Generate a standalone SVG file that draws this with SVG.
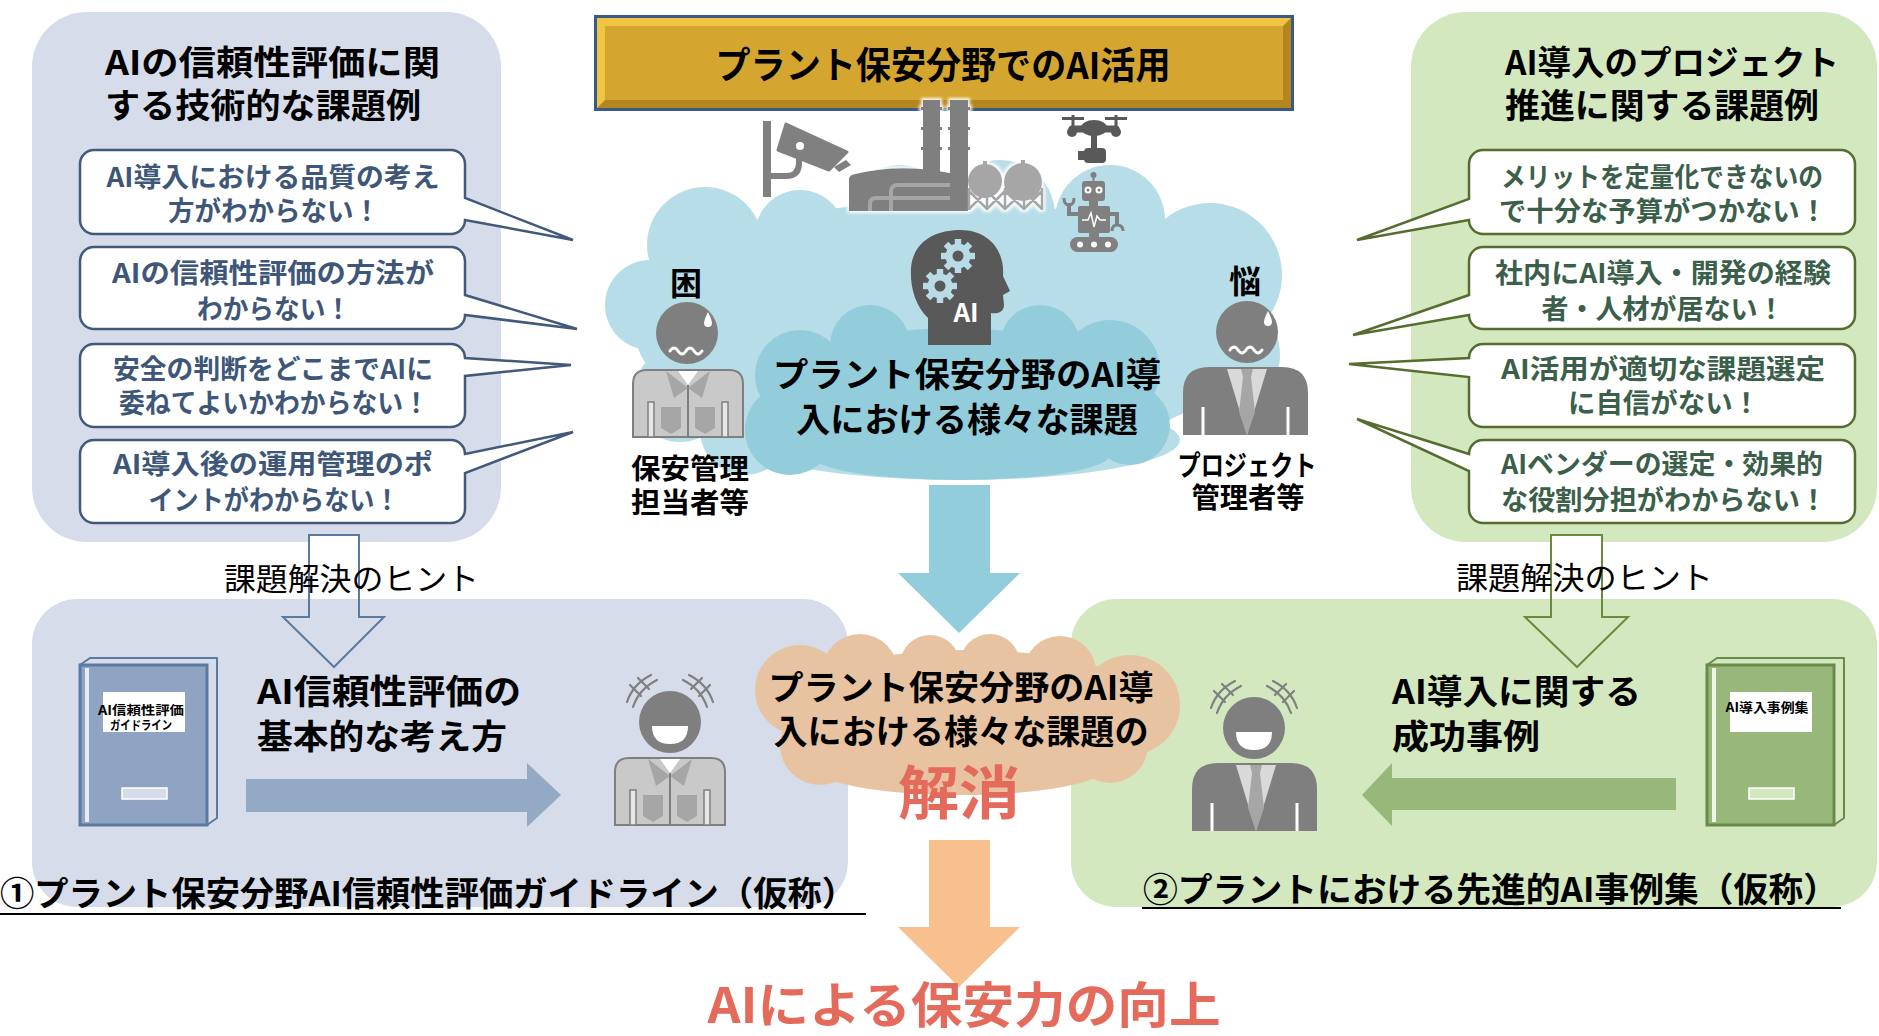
<svg xmlns="http://www.w3.org/2000/svg" width="1879" height="1036" viewBox="0 0 1879 1036">
<style>
  text { font-family: "Noto Sans CJK JP", "Noto Sans", sans-serif; font-weight: 700; }
  .blk { fill: #000; }
  .qb { fill: #3e5778; font-size: 27px; text-anchor: middle; }
  .qg { fill: #3b5f4b; font-size: 27px; text-anchor: middle; }
  .ttl { font-size: 34px; fill: #000; }
  .mid { text-anchor: middle; }
  .hint { font-weight: 400; font-size: 31px; fill: #000; }
  .bl { fill: #fff; stroke: #43597b; stroke-width: 2.5; }
  .bg { fill: #fff; stroke: #566d2f; stroke-width: 2.5; }
  .pb { fill: #d6dce9; }
  .pg { fill: #d3e8be; }
  .red { fill: #e46b5c; }
  .mark { fill: none; stroke: #808080; stroke-width: 2.2; stroke-linecap: round; }
</style>
<defs>
  <filter id="glow" x="-15%" y="-15%" width="130%" height="130%">
    <feMorphology in="SourceAlpha" operator="dilate" radius="2" result="d"/>
    <feGaussianBlur in="d" stdDeviation="1.5" result="b"/>
    <feFlood flood-color="#ffffff" flood-opacity="0.9"/>
    <feComposite in2="b" operator="in"/>
    <feMerge><feMergeNode/><feMergeNode in="SourceGraphic"/></feMerge>
  </filter>
  <g id="gear">
    <circle r="12.5"/>
    <rect x="-3.2" y="-17" width="6.4" height="6"/>
    <rect x="-3.2" y="-17" width="6.4" height="6" transform="rotate(45)"/>
    <rect x="-3.2" y="-17" width="6.4" height="6" transform="rotate(90)"/>
    <rect x="-3.2" y="-17" width="6.4" height="6" transform="rotate(135)"/>
    <rect x="-3.2" y="-17" width="6.4" height="6" transform="rotate(180)"/>
    <rect x="-3.2" y="-17" width="6.4" height="6" transform="rotate(225)"/>
    <rect x="-3.2" y="-17" width="6.4" height="6" transform="rotate(270)"/>
    <rect x="-3.2" y="-17" width="6.4" height="6" transform="rotate(315)"/>
    <circle r="5.5" fill="#595959"/>
  </g>
  <!-- work uniform torso, 110 x 67 -->
  <g id="uniform">
    <path d="M0,67 V14 Q0,0 14,0 H96 Q110,0 110,14 V67 Z" fill="#c9c9c9" stroke="#7f7f7f" stroke-width="2"/>
    <polygon points="33,1 55,18 41,28" fill="#a6a6a6"/>
    <polygon points="77,1 55,18 69,28" fill="#a6a6a6"/>
    <polygon points="45,1 65,1 55,15" fill="#fff"/>
    <path d="M55,15 V67" stroke="#7f7f7f" stroke-width="2"/>
    <path d="M28,37 H48 V58 L38,64 L28,58 Z" fill="#a6a6a6"/>
    <path d="M62,37 H82 V58 L72,64 L62,58 Z" fill="#a6a6a6"/>
    <rect x="15" y="32" width="6" height="35" fill="#e6e6e6" stroke="#7f7f7f" stroke-width="1.5"/>
    <rect x="89" y="32" width="6" height="35" fill="#e6e6e6" stroke="#7f7f7f" stroke-width="1.5"/>
  </g>
  <!-- business suit torso, 125 x 68 -->
  <g id="suit">
    <path d="M0,68 V26 Q0,0 26,0 H99 Q125,0 125,26 V68 Z" fill="#7f7f7f"/>
    <polygon points="44,2 84,2 64,68" fill="#d9d9d9"/>
    <polygon points="58,2 70,2 68,10 72,45 64,68 56,45 60,10" fill="#a6a6a6"/>
    <path d="M20,40 V68 M105,40 V68" stroke="#fff" stroke-width="3"/>
  </g>
  <!-- worried face, centred on 0,0 -->
  <g id="worried">
    <circle r="31" fill="#7f7f7f"/>
    <path d="M21,-21 Q25,-13 25,-10 A4,4 0 0 1 17,-10 Q17,-13 21,-21 Z" fill="#fff"/>
    <path d="M-17,18 q4,-6 8,0 t8,0 t8,0 t8,0" fill="none" stroke="#fff" stroke-width="3" stroke-linecap="round"/>
  </g>
  <!-- happy face with excitement marks -->
  <g id="happy">
    <circle r="31" fill="#7f7f7f"/>
    <path d="M-18,4 H18 Q18,22 0,22 Q-18,22 -18,4 Z" fill="#fff"/>
    <g class="mark">
      <path d="M-43,-20 Q-37,-38 -19,-47 M-37,-15 Q-31,-33 -13,-42 M-40,-37 L-29,-26 M-32,-44 L-21,-33"/>
      <path d="M43,-20 Q37,-38 19,-47 M37,-15 Q31,-33 13,-42 M40,-37 L29,-26 M32,-44 L21,-33"/>
    </g>
  </g>
</defs>

<!-- upper panels -->
<g id="panel-tech">
  <rect class="pb" x="32" y="12" width="469" height="530" rx="55"/>
  <text class="ttl" x="105" y="75" textLength="335" lengthAdjust="spacingAndGlyphs">AIの信頼性評価に関</text>
  <text class="ttl" x="105" y="118" textLength="316" lengthAdjust="spacingAndGlyphs">する技術的な課題例</text>
</g>
<g id="panel-project">
  <rect class="pg" x="1411" y="12" width="466" height="530" rx="55"/>
  <text class="ttl" x="1505" y="75" textLength="334" lengthAdjust="spacingAndGlyphs">AI導入のプロジェクト</text>
  <text class="ttl" x="1505" y="118" textLength="314" lengthAdjust="spacingAndGlyphs">推進に関する課題例</text>
</g>

<!-- hollow hint arrows: white body underneath the lower panels -->
<g id="hint-arrow-fill" fill="#fff">
  <path d="M309,535 V617 H283 L334,667 L384,617 H359 V535 Z"/>
  <path d="M1551,535 V617 H1525 L1577,667 L1628,617 H1602 V535 Z"/>
</g>

<!-- lower panels -->
<g id="guideline">
  <rect class="pb" x="32" y="599" width="816" height="308" rx="45"/>
</g>
<g id="casebook">
  <rect class="pg" x="1071" y="599" width="806" height="308" rx="45"/>
</g>

<g id="connectors">
  <path d="M309,535 V617 H283 L334,667 L384,617 H359 V535 Z" fill="none" stroke="#5b7aa0" stroke-width="2"/>
  <path d="M1551,535 V617 H1525 L1577,667 L1628,617 H1602 V535 Z" fill="none" stroke="#6b8a3f" stroke-width="2"/>
  <polygon points="246,779 527,779 527,763 561,795 527,827 527,812 246,812" fill="#94a9c3"/>
  <polygon points="1676,778 1392,778 1392,763 1362,795 1392,826 1392,810 1676,810" fill="#98b77a"/>
  <path d="M929,485 H990 V573 H1020 L959,633 L898,573 H929 Z" fill="#92cddc"/>
  <path d="M929,840 H990 V927 H1020 L959,987 L898,927 H929 Z" fill="#f9c08f"/>
</g>

<text class="hint" x="224" y="590" textLength="255" lengthAdjust="spacingAndGlyphs">課題解決のヒント</text>
<text class="hint" x="1456" y="589" textLength="257" lengthAdjust="spacingAndGlyphs">課題解決のヒント</text>

<!-- left callouts -->
<g id="tech-issues">
  <path class="bl" d="M94,150 H451 A14,14 0 0 1 465,164 V198 L573,240 L465,220 A14,14 0 0 1 451,234 H94 A14,14 0 0 1 80,220 V164 A14,14 0 0 1 94,150 Z"/>
  <path class="bl" d="M94,247 H451 A14,14 0 0 1 465,261 V295 L577,329 L465,315 A14,14 0 0 1 451,329 H94 A14,14 0 0 1 80,315 V261 A14,14 0 0 1 94,247 Z"/>
  <path class="bl" d="M94,344 H451 A14,14 0 0 1 465,358 L571,365 L465,376 V413 A14,14 0 0 1 451,427 H94 A14,14 0 0 1 80,413 V358 A14,14 0 0 1 94,344 Z"/>
  <path class="bl" d="M94,440 H451 A14,14 0 0 1 465,454 L573,432 L465,473 V509 A14,14 0 0 1 451,523 H94 A14,14 0 0 1 80,509 V454 A14,14 0 0 1 94,440 Z"/>
  <text class="qb" x="273" y="187" textLength="333" lengthAdjust="spacingAndGlyphs">AI導入における品質の考え</text>
  <text class="qb" x="274" y="221" textLength="212" lengthAdjust="spacingAndGlyphs">方がわからない！</text>
  <text class="qb" x="273" y="283" textLength="322" lengthAdjust="spacingAndGlyphs">AIの信頼性評価の方法が</text>
  <text class="qb" x="274" y="319" textLength="154" lengthAdjust="spacingAndGlyphs">わからない！</text>
  <text class="qb" x="273" y="379" textLength="320" lengthAdjust="spacingAndGlyphs">安全の判断をどこまでAIに</text>
  <text class="qb" x="274" y="413" textLength="310" lengthAdjust="spacingAndGlyphs">委ねてよいかわからない！</text>
  <text class="qb" x="273" y="474" textLength="320" lengthAdjust="spacingAndGlyphs">AI導入後の運用管理のポ</text>
  <text class="qb" x="274" y="510" textLength="251" lengthAdjust="spacingAndGlyphs">イントがわからない！</text>
</g>

<!-- right callouts -->
<g id="project-issues">
  <path class="bg" d="M1483,150 H1841 A14,14 0 0 1 1855,164 V220 A14,14 0 0 1 1841,234 H1483 A14,14 0 0 1 1469,220 L1357,240 L1469,199 V164 A14,14 0 0 1 1483,150 Z"/>
  <path class="bg" d="M1483,247 H1841 A14,14 0 0 1 1855,261 V315 A14,14 0 0 1 1841,329 H1483 A14,14 0 0 1 1469,315 L1353,335 L1469,295 V261 A14,14 0 0 1 1483,247 Z"/>
  <path class="bg" d="M1483,344 H1841 A14,14 0 0 1 1855,358 V413 A14,14 0 0 1 1841,427 H1483 A14,14 0 0 1 1469,413 V377 L1349,364 L1469,358 A14,14 0 0 1 1483,344 Z"/>
  <path class="bg" d="M1483,440 H1841 A14,14 0 0 1 1855,454 V509 A14,14 0 0 1 1841,523 H1483 A14,14 0 0 1 1469,509 V471 L1357,419 L1469,454 A14,14 0 0 1 1483,440 Z"/>
  <text class="qg" x="1662" y="187" textLength="322" lengthAdjust="spacingAndGlyphs">メリットを定量化できないの</text>
  <text class="qg" x="1663" y="221" textLength="328" lengthAdjust="spacingAndGlyphs">で十分な予算がつかない！</text>
  <text class="qg" x="1663" y="283" textLength="336" lengthAdjust="spacingAndGlyphs">社内にAI導入・開発の経験</text>
  <text class="qg" x="1663" y="319" textLength="243" lengthAdjust="spacingAndGlyphs">者・人材が居ない！</text>
  <text class="qg" x="1663" y="379" textLength="324" lengthAdjust="spacingAndGlyphs">AI活用が適切な課題選定</text>
  <text class="qg" x="1664" y="413" textLength="192" lengthAdjust="spacingAndGlyphs">に自信がない！</text>
  <text class="qg" x="1662" y="474" textLength="322" lengthAdjust="spacingAndGlyphs">AIベンダーの選定・効果的</text>
  <text class="qg" x="1664" y="510" textLength="326" lengthAdjust="spacingAndGlyphs">な役割分担がわからない！</text>
</g>

<!-- title plate -->
<g id="title">
  <rect x="594" y="15" width="700" height="96" fill="#3a5987"/>
  <rect x="597" y="18" width="694" height="90" fill="#f0c544"/>
  <polygon points="597,108 1291,108 1291,18 1283,26 1283,100 605,100" fill="#b38620"/>
  <rect x="605" y="26" width="678" height="74" fill="#d4a62f"/>
  <text class="blk mid" x="943" y="79" font-size="37" textLength="455" lengthAdjust="spacingAndGlyphs">プラント保安分野でのAI活用</text>
</g>

<!-- cloud of issues -->
<g id="cloud-issues">
  <g fill="#b7dde8">
    <circle cx="650" cy="305" r="45"/>
    <circle cx="705" cy="245" r="58"/>
    <circle cx="800" cy="235" r="45"/>
    <circle cx="900" cy="215" r="50"/>
    <circle cx="1000" cy="215" r="55"/>
    <circle cx="1110" cy="220" r="55"/>
    <circle cx="1210" cy="275" r="72"/>
    <circle cx="1215" cy="355" r="65"/>
    <circle cx="680" cy="395" r="47"/>
    <circle cx="745" cy="430" r="45"/>
    <ellipse cx="945" cy="330" rx="310" ry="130"/>
    <ellipse cx="960" cy="440" rx="220" ry="40"/>
  </g>
  <g fill="#93cddc">
    <ellipse cx="955" cy="400" rx="190" ry="72"/>
    <circle cx="800" cy="375" r="45"/>
    <circle cx="870" cy="345" r="40"/>
    <circle cx="1040" cy="345" r="40"/>
    <circle cx="1110" cy="370" r="50"/>
    <circle cx="1130" cy="425" r="40"/>
    <circle cx="790" cy="430" r="45"/>
    <ellipse cx="960" cy="455" rx="150" ry="25"/>
  </g>

  <!-- security camera -->
  <g id="camera" fill="#808080">
    <rect x="763" y="121" width="8" height="76"/>
    <path d="M771,176 H786 Q799,176 799,163 V156" fill="none" stroke="#808080" stroke-width="6"/>
    <path d="M786,124 L847,152 L829,170 L778,150 Z" stroke="#808080" stroke-width="3" stroke-linejoin="round"/>
    <polygon points="834,167 846,160 851,165 839,172"/>
    <circle cx="800" cy="146" r="4" fill="#fff"/>
  </g>

  <!-- plant -->
  <g id="plant" filter="url(#glow)">
    <g fill="#7f7f7f">
      <rect x="923" y="100" width="17" height="80"/>
      <rect x="921" y="107" width="21" height="3"/>
      <rect x="921" y="127" width="21" height="3"/>
      <rect x="921" y="147" width="21" height="3"/>
      <rect x="950" y="100" width="18" height="111"/>
      <rect x="948" y="107" width="22" height="3"/>
      <rect x="948" y="127" width="22" height="3"/>
      <rect x="948" y="147" width="22" height="3"/>
      <path d="M849,211 V179 Q849,175 855,174 Q900,163 950,173 V211 Z"/>
    </g>
    <path d="M870,211 V204 Q870,198 876,198 H950 M891,211 V192 Q891,185 898,185 H950" fill="none" stroke="#a6a6a6" stroke-width="4"/>
    <g fill="#a6a6a6">
      <circle cx="985" cy="181" r="17"/>
      <circle cx="1023" cy="182" r="19"/>
      <rect x="983" y="161" width="4" height="4"/>
      <rect x="1021" y="160" width="4" height="4"/>
    </g>
    <path d="M969,188 V210 M987,188 V210 M1005,188 V210 M1024,188 V210 M1042,188 V210 M969,191 L987,209 M987,191 L969,209 M987,191 L1005,209 M1005,191 L987,209 M1005,191 L1024,209 M1024,191 L1005,209 M1024,191 L1042,209 M1042,191 L1024,209" fill="none" stroke="#a6a6a6" stroke-width="2.5"/>
  </g>

  <!-- drone -->
  <g id="drone" fill="#595959">
    <rect x="1062" y="117" width="22" height="3"/>
    <rect x="1105" y="117" width="22" height="3"/>
    <rect x="1071.5" y="115" width="3" height="11"/>
    <rect x="1114.5" y="115" width="3" height="11"/>
    <path d="M1072,129 H1116" stroke="#595959" stroke-width="7" stroke-linecap="round"/>
    <circle cx="1072" cy="132" r="5"/>
    <circle cx="1116" cy="132" r="5"/>
    <ellipse cx="1094" cy="128" rx="13" ry="8"/>
    <rect x="1091" y="135" width="6" height="14"/>
    <rect x="1084" y="148" width="22" height="15" rx="4"/>
    <rect x="1078" y="151" width="8" height="9"/>
  </g>

  <!-- robot -->
  <g id="robot" fill="#808080">
    <circle cx="1093.5" cy="175" r="3"/>
    <rect x="1092.5" y="176" width="2" height="6"/>
    <rect x="1082" y="181" width="23" height="20" rx="3"/>
    <rect x="1089" y="200" width="9" height="7"/>
    <rect x="1078" y="206" width="32" height="27" rx="2"/>
    <path d="M1078,214 H1069 V203 M1110,214 H1117 V226" fill="none" stroke="#808080" stroke-width="4"/>
    <path d="M1064,198 Q1064,205 1069,205 Q1074,205 1074,198 M1112,231 Q1112,225 1117,225 Q1123,225 1123,231" fill="none" stroke="#808080" stroke-width="3"/>
    <rect x="1089" y="232" width="10" height="6"/>
    <rect x="1070" y="237" width="48" height="15" rx="7.5"/>
    <g fill="#fff">
      <circle cx="1088" cy="190" r="3.5"/>
      <circle cx="1099" cy="190" r="3.5"/>
      <circle cx="1080" cy="244.5" r="3"/>
      <circle cx="1094" cy="244.5" r="3"/>
      <circle cx="1108" cy="244.5" r="3"/>
    </g>
    <circle cx="1088" cy="190" r="1.5"/>
    <circle cx="1099" cy="190" r="1.5"/>
    <polyline points="1082,220 1088,220 1091,213 1094,227 1097,216 1100,220 1106,220" fill="none" stroke="#fff" stroke-width="1.5"/>
  </g>

  <!-- AI head -->
  <g id="ai-head">
    <path d="M928,345 V318 C915,305 910,287 911,268 C913,242 935,230 960,230 C990,230 1005,252 1003,276 L1010,291 L1003,295 L1004,305 C1004,312 998,314 991,313 V345 Z" fill="#595959"/>
    <use href="#gear" x="958" y="256" fill="#b9dbe5"/>
    <use href="#gear" x="940" y="286" fill="#b9dbe5"/>
    <text x="966" y="322" font-size="26" fill="#fff" class="mid">AI</text>
  </g>

  <text class="blk mid" x="967" y="387" font-size="34" textLength="388" lengthAdjust="spacingAndGlyphs">プラント保安分野のAI導</text>
  <text class="blk mid" x="967" y="432" font-size="34" textLength="342" lengthAdjust="spacingAndGlyphs">入における様々な課題</text>
</g>

<!-- people facing the issues -->
<g id="safety-staff">
  <text class="blk mid" x="686" y="295" font-size="32">困</text>
  <use href="#worried" x="687" y="333"/>
  <use href="#uniform" x="633" y="370"/>
  <text class="blk mid" x="690" y="479" font-size="28" textLength="118" lengthAdjust="spacingAndGlyphs">保安管理</text>
  <text class="blk mid" x="690" y="513" font-size="28" textLength="118" lengthAdjust="spacingAndGlyphs">担当者等</text>
</g>
<g id="project-manager">
  <text class="blk mid" x="1245" y="293" font-size="32">悩</text>
  <use href="#worried" x="1247" y="332"/>
  <use href="#suit" x="1183" y="367"/>
  <text class="blk mid" x="1247" y="476" font-size="28" textLength="139" lengthAdjust="spacingAndGlyphs">プロジェクト</text>
  <text class="blk mid" x="1248" y="508" font-size="28" textLength="113" lengthAdjust="spacingAndGlyphs">管理者等</text>
</g>

<!-- guideline book and message -->
<g id="guideline-book">
  <polygon points="80,665 90,658 217,658 217,818 207,825" fill="#d6dce9" stroke="#5b7aa0" stroke-width="2" stroke-linejoin="round"/>
  <rect x="80" y="665" width="127" height="160" fill="#8ea4c2" stroke="#5b7aa0" stroke-width="3"/>
  <rect x="85" y="668" width="4" height="154" fill="#e8ecf2"/>
  <rect x="103" y="692" width="82" height="40" fill="#fff"/>
  <text class="blk mid" x="141" y="715" font-size="12.5" textLength="86" lengthAdjust="spacingAndGlyphs">AI信頼性評価</text>
  <text class="blk mid" x="141" y="730" font-size="12.5" textLength="62" lengthAdjust="spacingAndGlyphs">ガイドライン</text>
  <rect x="122" y="788" width="45" height="11" fill="#d6dce9" stroke="#fff" stroke-width="1.5"/>
</g>
<text class="blk" x="257" y="704" font-size="34" textLength="264" lengthAdjust="spacingAndGlyphs">AI信頼性評価の</text>
<text class="blk" x="257" y="749" font-size="34" textLength="250" lengthAdjust="spacingAndGlyphs">基本的な考え方</text>
<g id="staff-happy">
  <use href="#happy" x="670" y="722"/>
  <use href="#uniform" x="615" y="758"/>
</g>
<text class="blk" x="0" y="906" font-size="34" textLength="856" lengthAdjust="spacingAndGlyphs">①プラント保安分野AI信頼性評価ガイドライン（仮称）</text>
<path d="M0,914 H866" stroke="#000" stroke-width="2"/>

<!-- case book and message -->
<g id="case-book">
  <polygon points="1707,665 1717,658 1844,658 1844,818 1834,825" fill="#d3e8be" stroke="#6a8a4a" stroke-width="2" stroke-linejoin="round"/>
  <rect x="1707" y="665" width="127" height="160" fill="#98b77a" stroke="#6a8a4a" stroke-width="3"/>
  <rect x="1712" y="668" width="4" height="154" fill="#eef5e6"/>
  <rect x="1730" y="692" width="82" height="40" fill="#fff"/>
  <text class="blk mid" x="1767" y="712" font-size="13" textLength="83" lengthAdjust="spacingAndGlyphs">AI導入事例集</text>
  <rect x="1749" y="788" width="45" height="11" fill="#d3e8be" stroke="#fff" stroke-width="1.5"/>
</g>
<text class="blk" x="1392" y="704" font-size="34" textLength="249" lengthAdjust="spacingAndGlyphs">AI導入に関する</text>
<text class="blk" x="1392" y="749" font-size="34" textLength="148" lengthAdjust="spacingAndGlyphs">成功事例</text>
<g id="manager-happy">
  <use href="#happy" x="1254" y="728"/>
  <use href="#suit" x="1192" y="763"/>
</g>
<text class="blk" x="1143" y="902" font-size="34" textLength="695" lengthAdjust="spacingAndGlyphs">②プラントにおける先進的AI事例集（仮称）</text>
<path d="M1142,908 H1841" stroke="#000" stroke-width="2"/>

<!-- resolution cloud -->
<g id="cloud-resolve">
  <g fill="#e8c3a2">
    <ellipse cx="967" cy="712" rx="195" ry="62"/>
    <circle cx="800" cy="690" r="45"/>
    <circle cx="860" cy="672" r="38"/>
    <circle cx="930" cy="665" r="30"/>
    <circle cx="990" cy="664" r="30"/>
    <circle cx="1060" cy="672" r="36"/>
    <circle cx="1130" cy="705" r="50"/>
    <circle cx="1110" cy="745" r="38"/>
    <circle cx="820" cy="745" r="40"/>
    <ellipse cx="960" cy="765" rx="150" ry="30"/>
  </g>
  <text class="blk mid" x="961" y="700" font-size="34" textLength="385" lengthAdjust="spacingAndGlyphs">プラント保安分野のAI導</text>
  <text class="blk mid" x="961" y="744" font-size="34" textLength="375" lengthAdjust="spacingAndGlyphs">入における様々な課題の</text>
  <text class="red mid" x="959" y="814" font-size="58" textLength="122" lengthAdjust="spacingAndGlyphs">解消</text>
</g>

<g id="outcome">
  <text class="red mid" x="964" y="1023" font-size="49" textLength="513" lengthAdjust="spacingAndGlyphs">AIによる保安力の向上</text>
</g>
</svg>
